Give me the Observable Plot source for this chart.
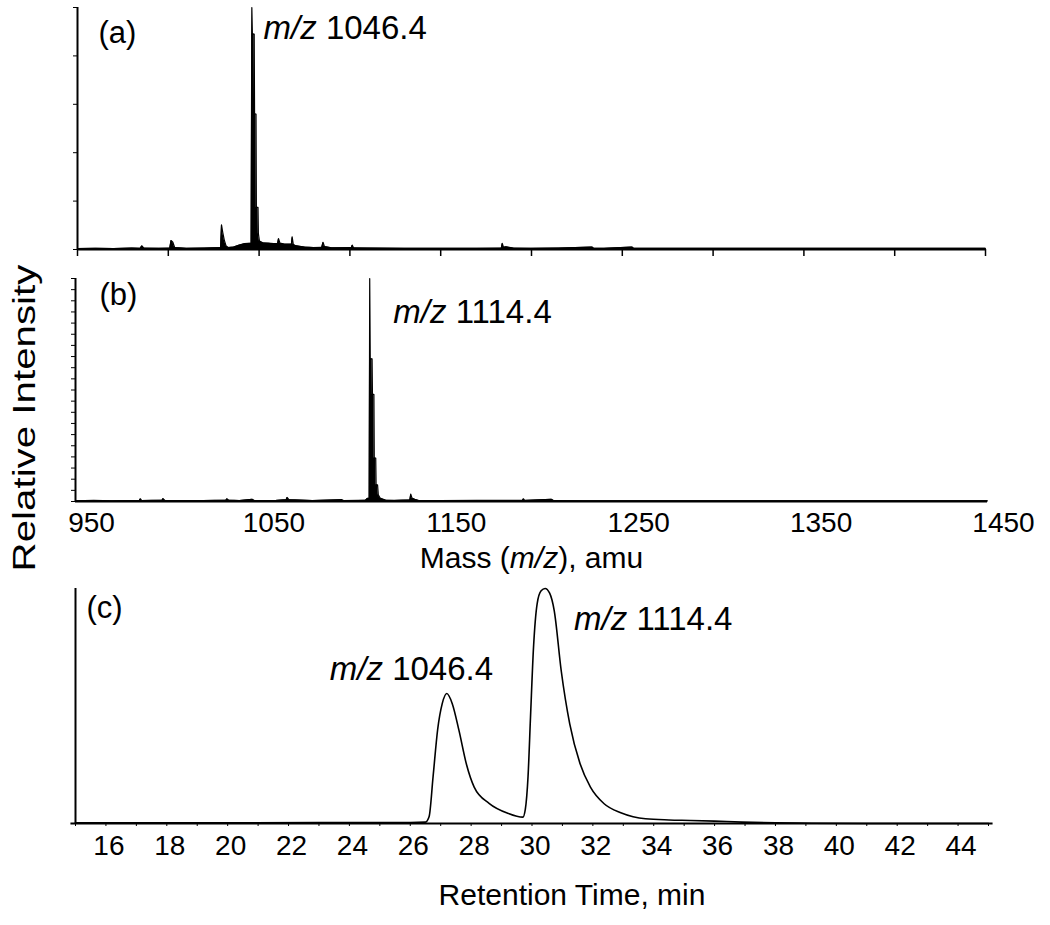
<!DOCTYPE html>
<html><head><meta charset="utf-8">
<script src="https://cdn.jsdelivr.net/npm/d3@7"></script>
<script src="https://cdn.jsdelivr.net/npm/@observablehq/plot@0.6"></script>
<style>
body{margin:0;background:#fff;}
#wrap{position:relative;width:1050px;height:925px;background:#fff;}
#wrap svg{position:absolute;left:0;overflow:visible;}
</style></head><body><div id="wrap"></div>
<script>
// ---- data ----
const massTicks = [950,1000,1050,1100,1150,1200,1250,1300,1350,1400,1450];
const massLabels = [950,1050,1150,1250,1350,1450];
const intTicksA = [0,20,40,60,80,100];
const intTicksB = [0,5,10,15,20,25,30,35,40,45,50,55,60,65,70,75,80,85,90,95,100];
const timeTicks = [15,16,17,18,19,20,21,22,23,24,25,26,27,28,29,30,31,32,33,34,35,36,37,38,39,40,41,42,43,44,45];
const timeLabels = [16,18,20,22,24,26,28,30,32,34,36,38,40,42,44];

// (a) mass spectrum, m/z vs relative intensity (%)
const specA_mz = [950,960,970,980,984.5,985.5,986.5,995,1000.8,1001.5,1002.5,1003.5,1010,1020,1028.8,1029.3,1030,1030.8,1031.8,1033,1036,1039,1042,1045.6,1046.0,1046.3,1047.3,1047.5,1048.3,1048.5,1049.4,1049.6,1050.2,1052,1055,1058,1060.2,1060.7,1061.5,1064,1067.8,1068.2,1068.8,1070,1075,1080,1084.5,1085.2,1086,1090,1100.8,1101.3,1102,1110,1130,1150,1170,1183.4,1183.9,1184.6,1186,1190,1200,1215,1233.4,1234.2,1240,1255.4,1256.2,1260,1300,1350,1400,1450];
const specA_int = [0.4,0.5,0.4,0.6,0.5,1.5,0.6,0.5,0.6,3.7,3.0,0.8,0.5,0.6,0.8,10.2,7,4,1.5,0.8,1.0,1.8,2.4,2.6,100,89,89,56,56,17.4,17.4,6.6,3.5,2.8,2.6,2.4,2.5,4.5,2.6,2.2,2.2,5.2,2.2,1.6,1.0,0.8,0.9,3,1.2,0.7,0.8,1.8,0.7,0.6,0.5,0.5,0.5,0.6,2.5,0.9,1.1,0.6,0.5,0.6,1.0,0.5,0.5,1.0,0.5,0.5,0.5,0.5,0.5,0.5];

// (b) mass spectrum
const specB_mz = [950,960,970,985,985.6,986.3,997.5,998,999,1010,1020,1032.5,1033,1034,1040,1046.9,1048,1060,1065.5,1066,1067,1080,1096,1097,1105,1109,1110,1111,1111.3,1111.6,1112.6,1112.8,1113.6,1113.8,1114.6,1114.8,1115.6,1116,1117,1118,1120,1125,1133.3,1133.8,1134.5,1136,1138,1150,1170,1195,1195.6,1196.3,1211,1212,1230,1280,1350,1450];
const specB_int = [0.3,0.5,0.3,0.5,1.2,0.4,0.6,1.3,0.5,0.4,0.4,0.6,1.2,0.6,0.4,1.0,0.4,0.5,0.8,1.8,0.8,0.4,0.8,0.4,0.5,0.6,1.4,1.5,100,64,64,48,48,19.5,19.5,7.5,7.5,3,1.5,1.2,0.6,0.5,0.7,3.3,1.5,1.0,0.5,0.4,0.5,0.5,1.2,0.5,1.0,0.4,0.3,0.3,0.3,0.3];

// (c) chromatogram, retention time (min) vs relative intensity (%)
const rtMin = [15,20,24,26,26.5,26.62,26.75,26.9,27.05,27.2,27.38,27.6,27.85,28.1,28.6,29.2,29.7,29.78,29.87,29.95,30.05,30.17,30.3,30.43,30.58,30.73,30.96,31.24,31.58,31.92,32.37,32.94,33.73,34.5,35.2,36.0,36.9,38.0,39.2,41,45];
const rtIntensity = [0.3,0.3,0.4,0.4,0.6,3,20,40,51,55.3,51,39.6,25,15.5,8.5,4.4,2.7,6,20,45,75,93.6,99,100,98,90.6,65,42.4,25.4,15.5,8.4,4.5,2,1.5,1.3,1.0,0.6,0.3,0.1,0,0];

const peakA = [{mz:1046.4, v:100, label:"m/z 1046.4"}];
const peakB = [{mz:1114.4, v:100, label:"m/z 1114.4"}];
const peakC1 = [{t:27.2, v:55.3, label:"m/z 1046.4"}];
const peakC2 = [{t:30.43, v:100, label:"m/z 1114.4"}];

// ---- build ----
const FONT = "Arial, 'Liberation Sans', sans-serif";
const A = specA_mz.map((x,i)=>({x, y:specA_int[i]}));
const B = specB_mz.map((x,i)=>({x, y:specB_int[i]}));
const C = rtMin.map((x,i)=>({x, y:rtIntensity[i]}));
const style = {fontFamily: FONT, background: "transparent", color: "#000"};

const plotA = Plot.plot({
  width:1050, height:262, marginTop:7, marginBottom:13, marginLeft:77, marginRight:65,
  x:{domain:[950,1450], axis:null}, y:{domain:[0,100], axis:null}, style,
  marks:[
    Plot.areaY(A,{x:"x", y:"y", fill:"#000"}),
    Plot.lineY(A,{x:"x", y:"y", stroke:"#000", strokeWidth:1.2}),
    Plot.axisX({ticks:massTicks, tickSize:7, strokeWidth:1.5, tickFormat:()=>"", label:null}),
    Plot.axisY({ticks:intTicksA, tickSize:4, strokeWidth:1, tickFormat:()=>"", label:null}),
    Plot.ruleY([0],{stroke:"#000", strokeWidth:2}),
    Plot.ruleX([950],{stroke:"#000", strokeWidth:2}),
    Plot.text(["(a)"],{frameAnchor:"top-left", dx:21, dy:26, fontSize:31, textAnchor:"start", lineAnchor:"middle"}),
    Plot.text(peakA,{x:"mz", y:"v", text:"label", dx:11, dy:21, fontSize:33, textAnchor:"start", lineAnchor:"middle"})
  ]
});

const plotB = Plot.plot({
  width:1050, height:318, marginTop:16, marginBottom:79, marginLeft:75, marginRight:63,
  x:{domain:[950,1450], axis:null}, y:{domain:[0,100], axis:null}, style,
  marks:[
    Plot.areaY(B,{x:"x", y:"y", fill:"#000"}),
    Plot.lineY(B,{x:"x", y:"y", stroke:"#000", strokeWidth:1.2}),
    Plot.axisY({ticks:intTicksB, tickSize:4, strokeWidth:1, tickFormat:()=>"", label:null}),
    Plot.ruleY([0],{stroke:"#000", strokeWidth:2}),
    Plot.ruleX([950],{stroke:"#000", strokeWidth:2}),
    Plot.text(massLabels,{x:d=>d, text:d=>String(d), frameAnchor:"bottom", dx:16, dy:11, fontSize:28, lineAnchor:"top"}),
    Plot.text(["Mass (m/z), amu"],{frameAnchor:"bottom", dy:57, fontSize:30, lineAnchor:"middle"}),
    Plot.text(["Relative Intensity"],{frameAnchor:"left", rotate:-90, dx:-50, dy:28, fontSize:31, textAnchor:"middle", lineAnchor:"middle"}),
    Plot.text(["(b)"],{frameAnchor:"top-left", dx:24, dy:17, fontSize:31, textAnchor:"start", lineAnchor:"middle"}),
    Plot.text(peakB,{x:"mz", y:"v", text:"label", dx:18, dy:34, fontSize:33, textAnchor:"start", lineAnchor:"middle"})
  ]
});

const plotC = Plot.plot({
  width:1050, height:345, marginTop:8, marginBottom:102, marginLeft:75, marginRight:62,
  x:{domain:[15,45], axis:null}, y:{domain:[0,100], axis:null}, style,
  marks:[
    Plot.lineY(C,{x:"x", y:"y", stroke:"#000", strokeWidth:1.6, curve:"monotone-x"}),
    Plot.axisX({ticks:timeTicks, tickSize:3, strokeWidth:1, tickFormat:()=>"", label:null}),
    Plot.ruleY([0],{x1:14.85, x2:45.15, stroke:"#000", strokeWidth:2}),
    Plot.ruleX([15],{stroke:"#000", strokeWidth:2}),
    Plot.text(timeLabels,{x:d=>d, text:d=>String(d), frameAnchor:"bottom", dx:3, dy:12, fontSize:28, lineAnchor:"top"}),
    Plot.text(["Retention Time, min"],{frameAnchor:"bottom", dx:40, dy:72, fontSize:30, lineAnchor:"middle"}),
    Plot.text(["(c)"],{frameAnchor:"top-left", dx:11, dy:20, fontSize:31, textAnchor:"start", lineAnchor:"middle"}),
    Plot.text(peakC1,{x:"t", y:"v", text:"label", dx:-117, dy:-24, fontSize:33, textAnchor:"start", lineAnchor:"middle"}),
    Plot.text(peakC2,{x:"t", y:"v", text:"label", dx:29, dy:31, fontSize:33, textAnchor:"start", lineAnchor:"middle"})
  ]
});

function italicize(svg){
  const ns="http://www.w3.org/2000/svg";
  svg.querySelectorAll("text").forEach(t=>{
    const s=t.textContent; const i=s.indexOf("m/z");
    if(i<0) return;
    const before=s.slice(0,i), after=s.slice(i+3);
    while(t.firstChild) t.removeChild(t.firstChild);
    if(before){const a=document.createElementNS(ns,"tspan");a.textContent=before;t.appendChild(a);}
    const b=document.createElementNS(ns,"tspan");b.setAttribute("font-style","italic");b.textContent="m/z";t.appendChild(b);
    const c=document.createElementNS(ns,"tspan");c.textContent=after;t.appendChild(c);
  });
}
const wrap=document.getElementById("wrap");
[[plotA,0],[plotB,262],[plotC,580]].forEach(([p,top])=>{p.style.top=top+"px"; italicize(p); wrap.appendChild(p);});
// the reference's vertical title is drawn elongated along its reading direction
plotB.querySelectorAll("text").forEach(t=>{
  if(t.textContent==="Relative Intensity"){
    const tr=t.getAttribute("transform")||"";
    t.setAttribute("transform", tr+" scale(1.3,1)");
  }
});
</script></body></html>
